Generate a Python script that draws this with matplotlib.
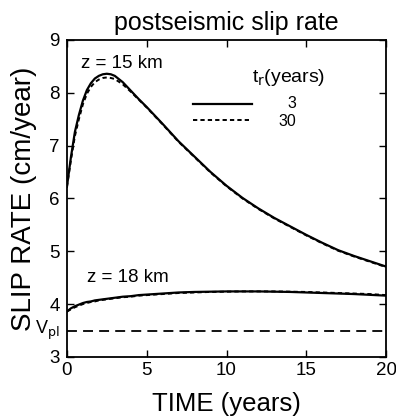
import matplotlib.pyplot as plt
from matplotlib.lines import Line2D

plt.rcParams['font.family'] = ['Liberation Sans', 'DejaVu Sans']

# =========================
# datos
# =========================
tiempo = [0, 0.25, 0.5, 0.75, 1, 1.25, 1.5, 1.75, 2, 2.25, 2.5, 2.75, 3, 3.5, 4, 4.5, 5,
          6, 7, 8, 9, 10, 11, 12, 13, 14, 15, 16, 17, 18, 19, 20]

# z = 15 km
v15_tr3 = [6.22, 6.78, 7.26, 7.58, 7.85, 8.05, 8.18, 8.27, 8.32, 8.35, 8.36, 8.35, 8.32,
           8.20, 8.04, 7.88, 7.73, 7.41, 7.08, 6.79, 6.50, 6.24, 6.01, 5.81, 5.63, 5.47,
           5.31, 5.16, 5.02, 4.91, 4.81, 4.71]
v15_tr30 = [6.22, 6.72, 7.18, 7.50, 7.78, 7.98, 8.11, 8.20, 8.25, 8.28, 8.29, 8.28, 8.26,
            8.16, 8.02, 7.87, 7.72, 7.40, 7.07, 6.78, 6.49, 6.23, 6.00, 5.80, 5.62, 5.46,
            5.30, 5.15, 5.01, 4.90, 4.80, 4.70]

# z = 18 km
v18_tr3 = [3.86, 3.92, 3.96, 3.99, 4.02, 4.04, 4.05, 4.07, 4.08, 4.09, 4.10, 4.11, 4.12,
           4.14, 4.15, 4.17, 4.18, 4.20, 4.22, 4.23, 4.235, 4.24, 4.24, 4.24, 4.235, 4.23,
           4.22, 4.21, 4.20, 4.19, 4.175, 4.16]
v18_tr30 = [3.86, 3.90, 3.94, 3.97, 4.00, 4.02, 4.04, 4.05, 4.07, 4.08, 4.09, 4.10, 4.11,
            4.13, 4.14, 4.16, 4.17, 4.19, 4.21, 4.22, 4.23, 4.235, 4.24, 4.24, 4.24, 4.235,
            4.23, 4.22, 4.21, 4.20, 4.19, 4.17]

v_pl = 3.5
xticks = [0, 5, 10, 15, 20]
yticks = [3, 4, 5, 6, 7, 8, 9]
tr_labels = ['3', '30']

# =========================
# figura
# =========================
fig = plt.figure(figsize=(3.96, 4.16), dpi=100)
ax = fig.add_axes([0.169, 0.142, 0.806, 0.762])

estilo_30 = dict(color='black', lw=1.4, linestyle=(0, (2.2, 1.6)))
ax.plot(tiempo, v15_tr3, color='black', lw=1.6)
ax.plot(tiempo, v15_tr30, **estilo_30)
ax.plot(tiempo, v18_tr3, color='black', lw=1.6)
ax.plot(tiempo, v18_tr30, **estilo_30)
ax.plot([0, 20], [v_pl, v_pl], color='black', lw=1.3, linestyle=(0, (5.5, 3.4)))

ax.set_xlim(0, 20)
ax.set_ylim(3, 9)
ax.set_xticks(xticks)
ax.set_yticks(yticks)
ax.tick_params(direction='in', length=5, width=1, top=True, right=True, labelsize=13.5)
ax.tick_params(axis='y', pad=5)
ax.tick_params(axis='x', pad=4)
for s in ax.spines.values():
    s.set_linewidth(1.3)

ax.set_title('postseismic slip rate', fontsize=18, pad=7)
ax.set_xlabel('TIME (years)', fontsize=18.5, labelpad=9)
ax.set_ylabel('SLIP RATE (cm/year)', fontsize=20, labelpad=9)

ax.text(0.045, 0.925, 'z = 15 km', transform=ax.transAxes, fontsize=13.5, va='center')
ax.text(0.062, 0.25, 'z = 18 km', transform=ax.transAxes, fontsize=13.5, va='center')
ax.text(-0.022, v_pl, r'V$_{\rm pl}$', transform=ax.get_yaxis_transform(),
        fontsize=13, ha='right', va='center')

# leyenda
ax.text(0.58, 0.883, r't$_{\rm r}$(years)', transform=ax.transAxes, fontsize=14, va='center')
handles = [Line2D([], [], color='black', lw=1.6), Line2D([], [], **estilo_30)]
ax.legend(handles, ['', ''], loc='upper left', bbox_to_anchor=(0.37, 0.84),
          frameon=False, fontsize=11, handlelength=3.9, handletextpad=0.5,
          labelspacing=0.15, borderpad=0)
for lab, yy in zip(tr_labels, [0.801, 0.744]):
    ax.text(0.718, yy, lab, transform=ax.transAxes, fontsize=11.5, ha='right', va='center')

fig.savefig('out.png', dpi=100)
